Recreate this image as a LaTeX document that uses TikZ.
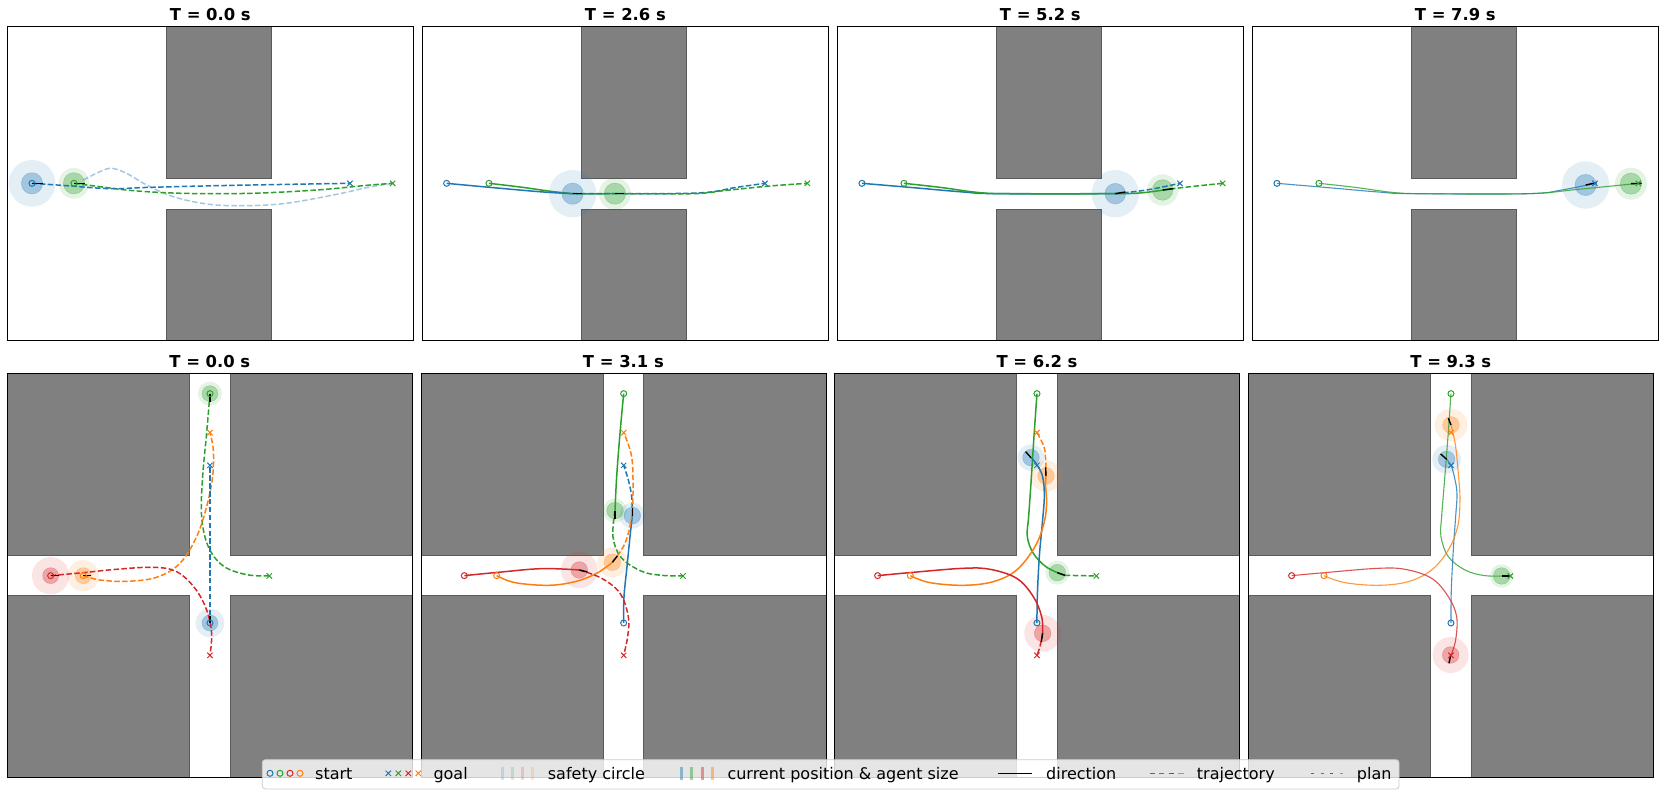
\documentclass[tikz,border=0pt]{standalone}
\usepackage{fontspec}
\setmainfont{DejaVu Sans}
\definecolor{tb}{HTML}{1F77B4}
\definecolor{to}{HTML}{FF7F0E}
\definecolor{tg}{HTML}{2CA02C}
\definecolor{tr}{HTML}{D62728}
\definecolor{obs}{HTML}{808080}
\definecolor{obsedge}{HTML}{5A5A5A}
\definecolor{legedge}{HTML}{CCCCCC}
\newcommand\agentdisk[5]{%
  \fill[#1, opacity=0.12] (#2,#3) circle (#5);
  \fill[#1, opacity=0.33] (#2,#3) circle (#4);
  \draw[#1, opacity=0.25, line width=0.6pt] (#2,#3) circle (#4);}
\newcommand\stmark[3]{\draw[#1, line width=1pt] (#2,#3) circle (9);}
\newcommand\gomark[3]{\draw[#1, line width=1pt] (#2,#3) +(-8,-8) -- +(8,8) +(-8,8) -- +(8,-8);}
\newcommand\toppanelenv{%
  \fill[obs, draw=obsedge, line width=0.8pt] (158.7,0) rectangle (264.3,152.7);
  \fill[obs, draw=obsedge, line width=0.8pt] (158.7,183.3) rectangle (264.3,314.3);}
\newcommand\toppanelframe{\draw[black, line width=0.9pt] (0,0) rectangle (406,314.3);}
\newcommand\botpanelenv{%
  \fill[obs, draw=obsedge, line width=0.8pt] (0,0) rectangle (182.3,182.3);
  \fill[obs, draw=obsedge, line width=0.8pt] (222.7,0) rectangle (405,182.3);
  \fill[obs, draw=obsedge, line width=0.8pt] (0,222) rectangle (182.3,404);
  \fill[obs, draw=obsedge, line width=0.8pt] (222.7,222) rectangle (405,404);}
\newcommand\botpanelframe{\draw[black, line width=0.9pt] (0,0) rectangle (405,404);}
\tikzset{
  past/.style={line width=1.5pt},
  thinpast/.style={line width=1.1pt, opacity=0.8},
  traj/.style={line width=1.5pt, dash pattern=on 5.5pt off 2.4pt},
  dirline/.style={black, line width=1.4pt},
  ttl/.style={font=\bfseries\fontsize{16.4}{19}\selectfont, anchor=base},
  legtxt/.style={font=\fontsize{16}{19}\selectfont, anchor=base west, inner sep=0pt},
  sm/.style={smooth, tension=0.6}
}
\begin{document}
\begin{tikzpicture}[x=1pt,y=-1pt]
\useasboundingbox (0,0) rectangle (1661,798);
\fill[white] (0,0) rectangle (1661,798);

% ================= TOP ROW =================
% ---- panel 1, T = 0.0 s
\begin{scope}[shift={(7.3,26)}]
\toppanelenv
\begin{scope}[x=0.33333pt,y=-0.33333pt,shift={(-22,-78)}]
\agentdisk{tb}{96}{550}{32}{70}
\agentdisk{tg}{222}{550}{32}{46}
\draw[tb, opacity=0.4, traj] plot[sm] coordinates {(250,540) (300,515) (335,505) (380,520) (440,555) (520,590) (620,612) (720,617) (850,611) (1000,585) (1100,563) (1178,550)};
\draw[tg, traj] plot[sm] coordinates {(222,550) (300,560) (400,572) (550,580) (750,580) (950,570) (1100,556) (1178,550)};
\draw[tb, traj] plot[sm] coordinates {(96,550) (200,557) (330,566) (450,562) (700,556) (1050,550)};
\draw[dirline] (96,550) -- (128,550);
\draw[dirline] (222,550) -- (254,550);
\stmark{tb}{96}{550} \stmark{tg}{222}{550}
\gomark{tb}{1050}{550} \gomark{tg}{1178}{550}
\end{scope}
\toppanelframe
\end{scope}

% ---- panel 2, T = 2.6 s
\begin{scope}[shift={(422.3,26)}]
\toppanelenv
\begin{scope}[x=0.33333pt,y=-0.33333pt,shift={(-37,-78)}]
\agentdisk{tb}{488}{581}{32}{71}
\agentdisk{tg}{615}{581}{32}{48}
\draw[tg, past] plot[sm] coordinates {(237,550) (330,561) (430,575) (488,581) (615,581)};
\draw[tb, past] plot[sm] coordinates {(110,550) (250,563) (400,576) (488,581)};
\draw[tb, traj] plot[sm] coordinates {(488,581) (700,581) (880,578) (980,562) (1065,550)};
\draw[tg, traj] plot[sm] coordinates {(615,581) (850,581) (950,571) (1080,558) (1192,550)};
\draw[dirline] (488,581) -- (515,581);
\draw[dirline] (615,581) -- (642,581);
\stmark{tb}{110}{550} \stmark{tg}{237}{550}
\gomark{tb}{1065}{550} \gomark{tg}{1192}{550}
\end{scope}
\toppanelframe
\end{scope}

% ---- panel 3, T = 5.2 s
\begin{scope}[shift={(837.3,26)}]
\toppanelenv
\begin{scope}[x=0.33333pt,y=-0.33333pt,shift={(-22,-78)}]
\agentdisk{tb}{856}{581}{31}{71}
\agentdisk{tg}{998}{570}{31}{47}
\draw[tb, past] plot[sm] coordinates {(96,550) (250,563) (400,576) (500,581) (856,581)};
\draw[tg, past] plot[sm] coordinates {(222,550) (330,562) (450,578) (550,581) (856,581) (940,578) (1020,567)};
\draw[tb, traj] plot[sm] coordinates {(856,581) (950,570) (1050,550)};
\draw[tg, traj] plot[sm] coordinates {(1020,567) (1100,558) (1178,550)};
\draw[dirline] (856,581) -- (886,576);
\draw[dirline] (998,570) -- (1030,566);
\stmark{tb}{96}{550} \stmark{tg}{222}{550}
\gomark{tb}{1050}{550} \gomark{tg}{1178}{550}
\end{scope}
\toppanelframe
\end{scope}

% ---- panel 4, T = 7.9 s
\begin{scope}[shift={(1252.3,26)}]
\toppanelenv
\begin{scope}[x=0.33333pt,y=-0.33333pt,shift={(-22,-78)}]
\agentdisk{tb}{1022}{555}{32}{71}
\agentdisk{tg}{1158}{551}{32}{48}
\draw[tb, thinpast] plot[sm] coordinates {(96,550) (250,563) (400,576) (500,581) (850,581) (950,570) (1050,550)};
\draw[tg, thinpast] plot[sm] coordinates {(222,550) (330,562) (450,578) (550,581) (850,581) (1000,568) (1180,550)};
\draw[dirline] (1022,555) -- (1055,548);
\draw[dirline] (1158,551) -- (1190,550);
\stmark{tb}{96}{550} \stmark{tg}{222}{550}
\gomark{tb}{1050}{550} \gomark{tg}{1180}{550}
\end{scope}
\toppanelframe
\end{scope}

% ================= BOTTOM ROW =================
% ---- panel 5, T = 0.0 s
\begin{scope}[shift={(7.3,373.3)}]
\botpanelenv
\begin{scope}[x=0.33333pt,y=-0.33333pt,shift={(-22,-70)}]
\agentdisk{tg}{630}{131}{24}{36}
\agentdisk{tr}{152}{677}{24}{56}
\agentdisk{to}{250}{677}{24}{47}
\agentdisk{tb}{630}{819}{24}{43}
\draw[tg, traj] plot[sm] coordinates {(630,131) (620,250) (608,380) (605,500) (625,590) (670,648) (740,674) (808,678)};
\draw[to, traj] plot[sm] coordinates {(250,677) (300,690) (380,694) (470,682) (540,640) (590,560) (620,470) (638,380) (640,300) (630,248)};
\draw[tb, traj] (630,819) -- (630,346);
\draw[tr, traj] plot[sm] coordinates {(152,677) (250,668) (350,658) (460,652) (530,665) (585,715) (620,780) (635,850) (630,916)};
\draw[dirline] (152,677) -- (176,677);
\draw[dirline] (250,677) -- (274,677);
\draw[dirline] (630,131) -- (630,155);
\draw[dirline] (630,819) -- (630,797);
\stmark{tg}{630}{131} \stmark{tr}{152}{677} \stmark{to}{250}{677} \stmark{tb}{630}{819}
\gomark{to}{630}{248} \gomark{tb}{630}{346} \gomark{tg}{808}{678} \gomark{tr}{630}{916}
\end{scope}
\botpanelframe
\end{scope}

% ---- panel 6, T = 3.1 s
\begin{scope}[shift={(421,373.3)}]
\botpanelenv
\begin{scope}[x=0.33333pt,y=-0.33333pt,shift={(-18,-70)}]
\agentdisk{tg}{600}{482}{25}{36}
\agentdisk{tb}{652}{497}{25}{39}
\agentdisk{to}{592}{637}{25}{45}
\agentdisk{tr}{493}{660}{25}{55}
\draw[tg, past] plot[sm] coordinates {(626,131) (615,250) (605,380) (600,482)};
\draw[tg, traj] plot[sm] coordinates {(600,482) (594,560) (618,622) (680,664) (740,676) (804,678)};
\draw[tb, past] plot[sm] coordinates {(626,819) (627,740) (636,650) (645,560) (652,497)};
\draw[tb, traj] plot[sm] coordinates {(652,497) (650,440) (640,390) (626,346)};
\draw[to, past] plot[sm] coordinates {(245,677) (300,698) (400,706) (480,695) (545,670) (592,637)};
\draw[to, traj] plot[sm] coordinates {(592,637) (630,580) (650,500) (654,420) (650,320) (626,248)};
\draw[tr, past] plot[sm] coordinates {(148,677) (250,667) (380,656) (493,660)};
\draw[tr, traj] plot[sm] coordinates {(493,660) (560,685) (615,730) (640,800) (638,860) (626,916)};
\draw[dirline] (600,482) -- (600,506);
\draw[dirline] (652,497) -- (652,474);
\draw[dirline] (592,637) -- (607,618);
\draw[dirline] (493,660) -- (517,666);
\stmark{tg}{626}{131} \stmark{tr}{148}{677} \stmark{to}{245}{677} \stmark{tb}{626}{819}
\gomark{to}{626}{248} \gomark{tb}{626}{346} \gomark{tg}{804}{678} \gomark{tr}{626}{916}
\end{scope}
\botpanelframe
\end{scope}

% ---- panel 7, T = 6.2 s
\begin{scope}[shift={(834.3,373.3)}]
\botpanelenv
\begin{scope}[x=0.33333pt,y=-0.33333pt,shift={(-13,-70)}]
\agentdisk{tg}{682}{668}{25}{36}
\agentdisk{tb}{603}{323}{25}{40}
\agentdisk{to}{648}{378}{25}{47}
\agentdisk{tr}{638}{850}{25}{55}
\draw[tg, past] plot[sm] coordinates {(621,131) (612,260) (603,400) (596,500) (592,560) (610,610) (645,648) (682,668) (705,676)};
\draw[tg, traj] (705,676) -- (799,678);
\draw[tb, past] plot[sm] coordinates {(621,819) (622,740) (628,620) (637,520) (643,440) (638,380) (620,343) (603,323)};
\draw[to, past] plot[sm] coordinates {(241,677) (300,698) (400,706) (490,695) (560,660) (615,590) (642,520) (650,460) (647,410) (648,378)};
\draw[to, traj] plot[sm] coordinates {(648,378) (647,330) (642,290) (621,248)};
\draw[tr, past] plot[sm] coordinates {(143,677) (250,667) (400,655) (480,658) (560,685) (610,740) (635,800) (638,850)};
\draw[tr, traj] plot[sm] coordinates {(638,850) (630,890) (621,916)};
\draw[dirline] (603,323) -- (587,305);
\draw[dirline] (648,378) -- (647,352);
\draw[dirline] (638,850) -- (634,875);
\draw[dirline] (682,668) -- (705,676);
\stmark{tg}{621}{131} \stmark{tr}{143}{677} \stmark{to}{241}{677} \stmark{tb}{621}{819}
\gomark{to}{621}{248} \gomark{tb}{621}{346} \gomark{tg}{799}{678} \gomark{tr}{621}{916}
\end{scope}
\botpanelframe
\end{scope}

% ---- panel 8, T = 9.3 s
\begin{scope}[shift={(1248.3,373.3)}]
\botpanelenv
\begin{scope}[x=0.33333pt,y=-0.33333pt,shift={(-10,-70)}]
\agentdisk{tg}{770}{678}{25}{35}
\agentdisk{tb}{605}{328}{25}{43}
\agentdisk{to}{618}{225}{25}{49}
\agentdisk{tr}{617}{915}{25}{54}
\draw[tg, thinpast] plot[sm] coordinates {(618,131) (609,260) (598,400) (590,500) (588,560) (610,620) (660,660) (720,677) (796,678)};
\draw[tb, thinpast] plot[sm] coordinates {(618,819) (619,720) (625,600) (632,500) (636,430) (628,380) (618,346) (605,328)};
\draw[to, thinpast] plot[sm] coordinates {(237,677) (300,698) (400,706) (490,695) (560,660) (610,600) (638,530) (645,450) (640,370) (632,290) (622,240) (618,225)};
\draw[tr, thinpast] plot[sm] coordinates {(140,677) (250,667) (400,655) (480,658) (560,685) (610,740) (635,800) (632,870) (618,916)};
\draw[dirline] (605,328) -- (587,312);
\draw[dirline] (618,225) -- (610,205);
\draw[dirline] (617,915) -- (612,940);
\draw[dirline] (770,678) -- (796,678);
\stmark{tg}{618}{131} \stmark{tr}{140}{677} \stmark{to}{237}{677} \stmark{tb}{618}{819}
\gomark{to}{618}{248} \gomark{tb}{618}{346} \gomark{tg}{796}{678} \gomark{tr}{618}{916}
\end{scope}
\botpanelframe
\end{scope}

% ================= TITLES =================
\node[ttl] (t1) at (210.3,20) {T = 0.0 s};
\node[ttl] (t2) at (625.4,20) {T = 2.6 s};
\node[ttl] (t3) at (1040.3,20) {T = 5.2 s};
\node[ttl] (t4) at (1455.3,20) {T = 7.9 s};
\node[ttl] (t5) at (209.8,367.3) {T = 0.0 s};
\node[ttl] (t6) at (623.4,367.3) {T = 3.1 s};
\node[ttl] (t7) at (1037,367.3) {T = 6.2 s};
\node[ttl] (t8) at (1450.8,367.3) {T = 9.3 s};

% ================= LEGEND =================
\draw[legedge, line width=0.8pt, fill=white, fill opacity=0.8, rounded corners=3pt] (262.3,759.7) rectangle (1399,789);
% start
\draw[tb, line width=1pt] (270,773.3) circle (3);
\draw[tg, line width=1pt] (280,773.3) circle (3);
\draw[tr, line width=1pt] (290,773.3) circle (3);
\draw[to, line width=1pt] (300,773.3) circle (3);
\node[legtxt] (lstart) at (315,779) {start};
% goal
\foreach \xx/\cc in {388.3/tb, 398.3/tg, 408.3/tr, 418.3/to}
  \draw[\cc, line width=1pt] (\xx,773.3) +(-2.7,-2.7) -- +(2.7,2.7) +(-2.7,2.7) -- +(2.7,-2.7);
\node[legtxt] (lgoal) at (433.3,779) {goal};
% safety circle
\foreach \xx/\cc in {502.3/tb, 512.3/tg, 522.7/tr, 532.7/to}
  \fill[\cc, opacity=0.18] (\xx-1.7,767) rectangle (\xx+1.7,780);
\node[legtxt] (lsafe) at (547.7,779) {safety circle};
% current position
\foreach \xx/\cc in {681.7/tb, 691.7/tg, 702.3/tr, 712.3/to}
  \fill[\cc, opacity=0.45] (\xx-1.7,767) rectangle (\xx+1.7,780);
\node[legtxt] (lcur) at (727.3,779) {current position \& agent size};
% direction
\draw[black, line width=1.5pt] (998.3,773.3) -- (1031.7,773.3);
\node[legtxt] (ldir) at (1046,779) {direction};
% trajectory
\draw[tb, line width=1.5pt] (1150,773.3) -- (1155,773.3);
\draw[tg, line width=1.5pt] (1159.3,773.3) -- (1164.3,773.3);
\draw[tr, line width=1.5pt] (1168.7,773.3) -- (1173.7,773.3);
\draw[to, line width=1.5pt] (1178.3,773.3) -- (1183.6,773.3);
\node[legtxt] (ltraj) at (1196.7,779) {trajectory};
% plan
\draw[tb, line width=1.3pt] (1310.7,773.3) -- (1313.7,773.3);
\draw[tg, line width=1.3pt] (1320.7,773.3) -- (1323.5,773.3);
\draw[tr, line width=1.3pt] (1330.2,773.3) -- (1333.3,773.3);
\draw[to, line width=1.3pt] (1340.2,773.3) -- (1343.3,773.3);
\node[legtxt] (lplan) at (1356.7,779) {plan};
\end{tikzpicture}
\end{document}
